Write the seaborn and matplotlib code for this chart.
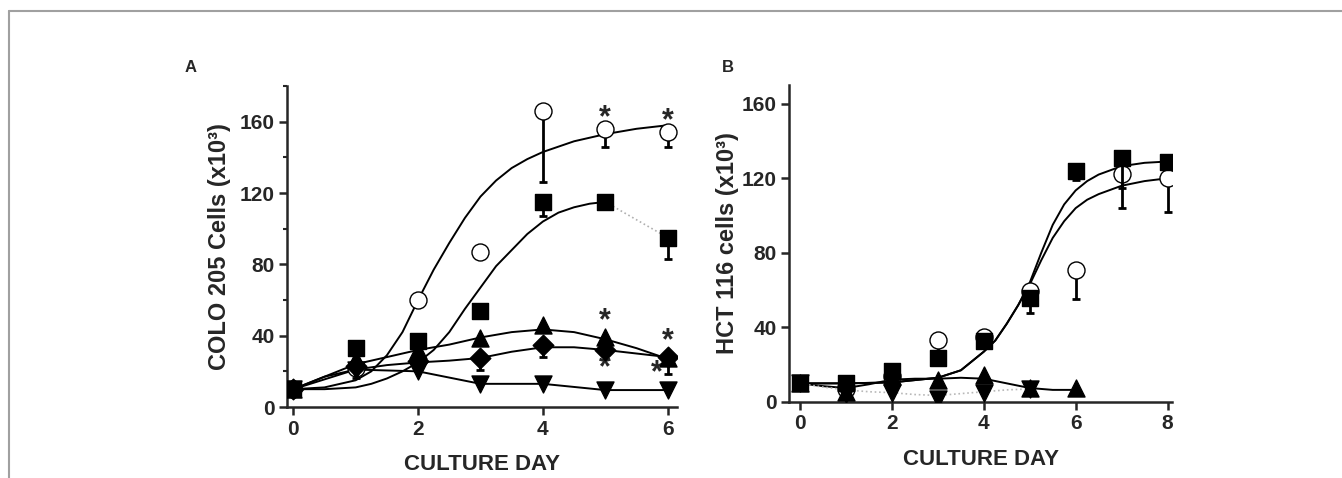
import numpy as np
import pandas as pd
import matplotlib
matplotlib.use("Agg")
import matplotlib.pyplot as plt
from matplotlib.lines import Line2D
from matplotlib.ticker import MultipleLocator
import seaborn as sns

# ---- Panel A: COLO 205 (measured points) ----
days_a = [0, 1, 2, 3, 4, 5, 6]
a_circle = [10, 22, 60, 87, 166, 156, 154]
a_circle_err = [0, 6, 2, 2, 40, 10, 8]  # lower error only
a_square = [10, 33, 37, 54, 115, 115, 95]
a_square_err = [0, 0, 0, 0, 8, 0, 12]
a_tri_up = [10, 27, 32, 38.5, 46, 39, 27.5]
a_tri_up_err = [0, 0, 0, 0, 0, 0, 9]
a_diamond = [10, 23, 26, 27.5, 35, 32, 28]
a_diamond_err = [0, 0, 3, 7, 7, 0, 0]
a_tri_down = [10, 21, 20, 13, 13, 9.5, 9.5]
a_tri_down_err = [0, 0, 0, 0, 0, 0, 0]

# fitted curves (panel A)
fit_x_a = [0, 0.5, 1.0, 1.25, 1.5, 1.75, 2.0, 2.25, 2.5, 2.75, 3.0, 3.25,
           3.5, 3.75, 4.0, 4.5, 5.0, 5.5, 6.0]
fit_circle_a = [10, 11, 15, 20, 29, 42, 60, 77, 92, 106, 118, 127,
                134, 139, 143, 149, 153, 156, 158]
fit_x_sq_a = [0, 0.5, 1.0, 1.25, 1.5, 1.75, 2.0, 2.25, 2.5, 2.75, 3.0, 3.25,
              3.5, 3.75, 4.0, 4.25, 4.5, 4.75, 5.0]
fit_square_a = [10, 10, 11, 13, 16, 20, 25, 32, 42, 55, 67, 79,
                88, 97, 104, 109, 112, 114, 115]
fit_x_small_a = [0, 0.5, 1.0, 1.5, 2.0, 2.5, 3.0, 3.5, 4.0, 4.5, 5.0, 5.5, 6.0]
fit_tri_up_a = [10, 17, 24, 28, 32, 35, 39, 42, 43.5, 42, 38, 33, 27]
fit_diamond_a = [10, 17, 21, 23.5, 25, 26, 27.5, 31, 33.5, 33.5, 32, 30, 28]

# asterisks (day, value) panel A
stars_a_x = [5, 6, 5, 6, 5, 5.83]
stars_a_y = [162, 160, 48, 37, 22, 19]

# ---- Panel B: HCT 116 (measured points) ----
days_b = [0, 1, 2, 3, 4, 5, 6, 7, 8]
b_square = [10, 10, 16.5, 23.5, 32.5, 56, 124, 131, 129]
b_square_err = [0, 0, 0, 0, 0, 8, 5, 16, 0]
b_circle = [10, 7, 14, 33, 35, 59.5, 71, 122.5, 120]
b_circle_err = [0, 0, 0, 6, 0, 0, 15.5, 18.5, 18]
days_b_small = [0, 1, 2, 3, 4, 5, 6]
b_tri_up = [10, 5.5, 14, 11.7, 14.4, 7.5, 7.5]
days_b_down = [0, 1, 2, 3, 4, 5]
b_tri_down = [10, 4.5, 4.8, 1.6, 4.8, 7]

fit_x_b = [0, 1, 2, 3, 3.5, 4, 4.25, 4.5, 4.75, 5.0, 5.25, 5.5, 5.75,
           6.0, 6.25, 6.5, 7.0, 7.5, 8.0]
fit_square_b = [10, 10, 10.5, 13, 17, 27, 33, 42, 52, 64, 80, 95, 106,
                113.5, 118.5, 122, 126.5, 128.3, 129]
fit_circle_b = [10, 10, 10.5, 13, 17, 27, 33, 42, 52, 63, 76, 88, 97,
                104, 108.5, 111.5, 116, 118.5, 120]
fit_x_tri_b = [0, 0.5, 1.0, 1.5, 2.0, 2.5, 3.0, 3.5, 4.0, 4.5, 5.0, 5.5, 6.0]
fit_tri_up_b = [10, 8.5, 7.5, 9.5, 12, 12.5, 12.5, 13, 12.5, 10, 7.5, 6.5, 6.5]
fit_x_down_b = [0, 0.5, 1, 1.5, 2, 2.5, 3, 3.5, 4, 4.5, 5]
fit_tri_down_b = [10, 8, 6.5, 5.5, 5, 4, 3.5, 4.5, 5.5, 6.5, 7]

sns.set_style("ticks")
plt.rcParams['font.family'] = ['Liberation Sans', 'DejaVu Sans']
plt.rcParams['font.weight'] = 'bold'
plt.rcParams['axes.labelweight'] = 'bold'

fig = plt.figure(figsize=(13.42, 4.78), dpi=100)
ax_a = fig.add_axes([0.2139, 0.1485, 0.2906, 0.6716])
ax_b = fig.add_axes([0.588, 0.159, 0.2854, 0.663])

# thin grey frame around the figure
fig.add_artist(Line2D([9 / 1342, 1], [1 - 11 / 478, 1 - 11 / 478], color='#a0a0a0', lw=1.5))
fig.add_artist(Line2D([9 / 1342, 9 / 1342], [0, 1 - 11 / 478], color='#a0a0a0', lw=1.5))

curve_kw = dict(color='black', linewidth=1.4, estimator=None, sort=False, legend=False)


def fit_line(ax, x, y, **kw):
    df = pd.DataFrame({'x': x, 'y': y})
    opts = dict(curve_kw)
    opts.update(kw)
    sns.lineplot(data=df, x='x', y='y', ax=ax, **opts)


def points(ax, x, y, err, marker, face, size, z=4):
    x = np.asarray(x, dtype=float)
    y = np.asarray(y, dtype=float)
    err = np.asarray(err, dtype=float)
    m = err > 0
    if m.any():
        ax.errorbar(x[m], y[m], yerr=[err[m], np.zeros(m.sum())], fmt='none',
                    ecolor='black', elinewidth=2, capsize=3, capthick=2, zorder=z - 1)
    df = pd.DataFrame({'x': x, 'y': y})
    sns.scatterplot(data=df, x='x', y='y', ax=ax, marker=marker, s=size,
                    color=face, edgecolor='black', linewidth=1.0, zorder=z, legend=False)


# ---- Panel A ----
fit_line(ax_a, fit_x_a, fit_circle_a)
fit_line(ax_a, fit_x_sq_a, fit_square_a)
fit_line(ax_a, fit_x_small_a, fit_tri_up_a)
fit_line(ax_a, fit_x_small_a, fit_diamond_a)
fit_line(ax_a, days_a, a_tri_down)
fit_line(ax_a, days_a[5:], a_square[5:], color='#b0b0b0', linestyle=':', linewidth=1.2)

points(ax_a, days_a, a_circle, a_circle_err, 'o', 'white', 150, z=3)
points(ax_a, days_a, a_tri_down, a_tri_down_err, 'v', 'black', 150)
points(ax_a, days_a, a_diamond, a_diamond_err, 'D', 'black', 110)
points(ax_a, days_a, a_tri_up, a_tri_up_err, '^', 'black', 150)
points(ax_a, days_a, a_square, a_square_err, 's', 'black', 130)

for sx, sy in zip(stars_a_x, stars_a_y):
    ax_a.text(sx, sy, '*', ha='center', va='center', fontsize=22, fontweight='bold')

ax_a.set_xlim(-0.1, 6.15)
ax_a.set_ylim(0, 180)
ax_a.set_xticks([0, 2, 4, 6])
ax_a.set_yticks([0, 40, 80, 120, 160])
ax_a.yaxis.set_minor_locator(MultipleLocator(20))
ax_a.set_xlabel('CULTURE DAY', fontsize=16, fontweight='bold', labelpad=11)
ax_a.set_ylabel('COLO 205 Cells (x10³)', fontsize=17, fontweight='bold', labelpad=6)

# ---- Panel B ----
fit_line(ax_b, fit_x_b, fit_square_b)
fit_line(ax_b, fit_x_b, fit_circle_b)
fit_line(ax_b, fit_x_tri_b, fit_tri_up_b)
fit_line(ax_b, fit_x_down_b, fit_tri_down_b, color='#b8b8b8', linestyle=':', linewidth=1.2)

points(ax_b, days_b[1:], b_circle[1:], b_circle_err[1:], 'o', 'white', 150, z=3)
points(ax_b, days_b_down, b_tri_down, [0] * len(days_b_down), 'v', 'black', 150)
points(ax_b, days_b_small, b_tri_up, [0] * len(days_b_small), '^', 'black', 150)
points(ax_b, days_b, b_square, b_square_err, 's', 'black', 130)

ax_b.set_xlim(-0.24, 8.1)
ax_b.set_ylim(0, 170)
ax_b.set_xticks([0, 2, 4, 6, 8])
ax_b.set_yticks([0, 40, 80, 120, 160])
ax_b.set_xlabel('CULTURE DAY', fontsize=16, fontweight='bold', labelpad=11)
ax_b.set_ylabel('HCT 116 cells (x10³)', fontsize=17, fontweight='bold', labelpad=2)

for ax in (ax_a, ax_b):
    sns.despine(ax=ax)
    for side in ('left', 'bottom'):
        ax.spines[side].set_linewidth(1.8)
    ax.tick_params(axis='both', which='major', length=6, width=1.8, labelsize=15, pad=3)
    ax.tick_params(axis='y', which='minor', length=3, width=1.5)
    for lab in ax.get_xticklabels() + ax.get_yticklabels():
        lab.set_fontweight('bold')

fig.text(185 / 1342, 1 - 67 / 478, 'A', fontsize=12, fontweight='bold', va='center')
fig.text(722 / 1342, 1 - 67 / 478, 'B', fontsize=12, fontweight='bold', va='center')

fig.savefig('out.png', dpi=100)
